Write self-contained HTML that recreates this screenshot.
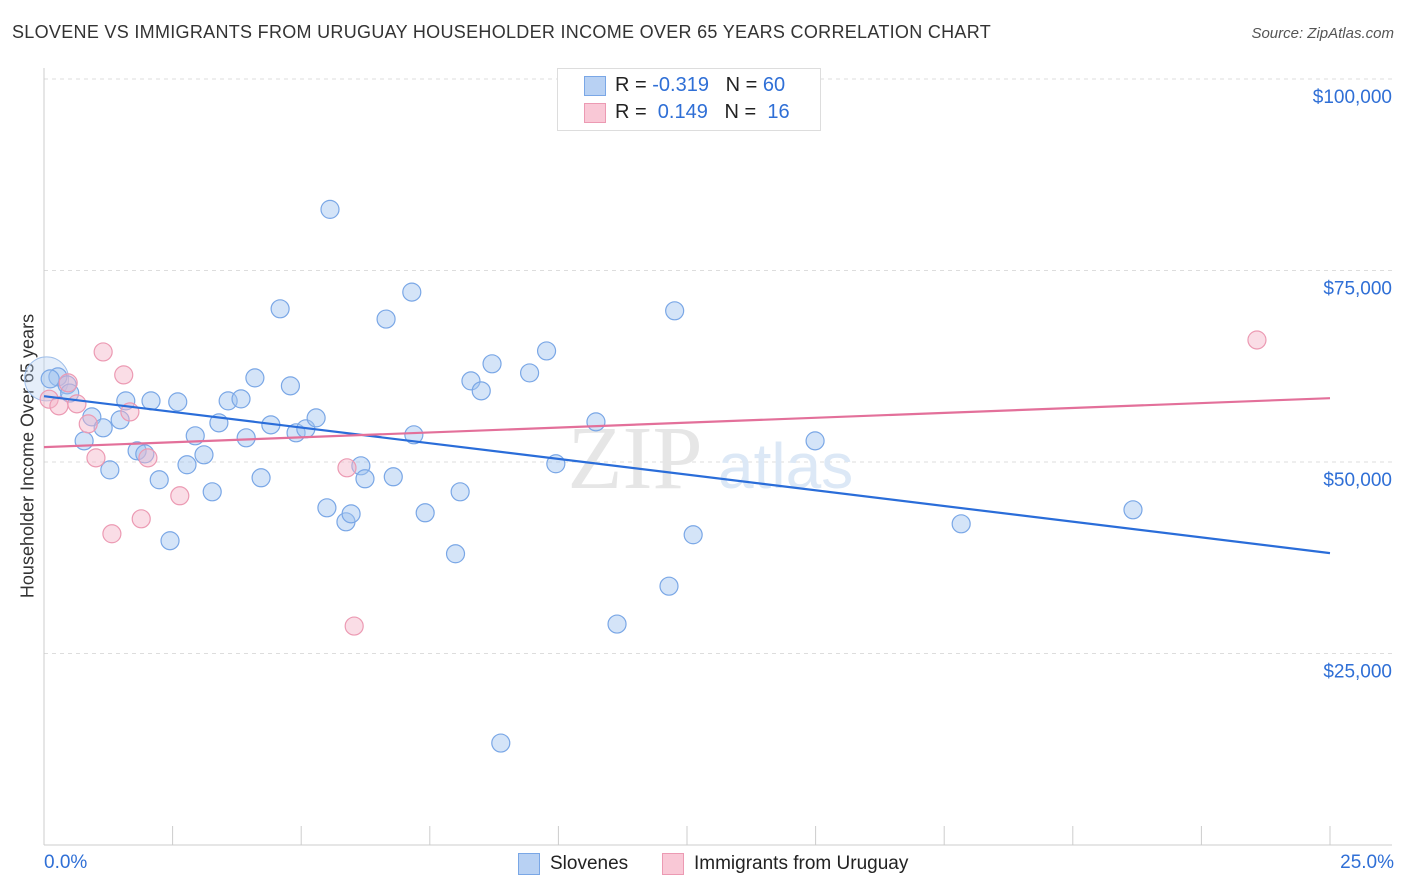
<!DOCTYPE html>
<html><head><meta charset="utf-8">
<style>
body{margin:0;background:#fff;font-family:"Liberation Sans",sans-serif;}
#wrap{position:relative;width:1406px;height:892px;overflow:hidden;}
.t{position:absolute;white-space:nowrap;}
</style></head>
<body>
<div id="wrap">
<div class="t" style="left:12px;top:22px;font-size:18px;letter-spacing:0.3px;color:#333;">SLOVENE VS IMMIGRANTS FROM URUGUAY HOUSEHOLDER INCOME OVER 65 YEARS CORRELATION CHART</div>
<div class="t" style="right:12px;top:25px;font-size:15px;color:#555;font-style:italic;">Source: ZipAtlas.com</div>
<div class="t" style="left:28px;top:456px;font-size:18px;color:#333;transform:translate(-50%,-50%) rotate(-90deg);">Householder Income Over 65 years</div>
<svg id="svg" width="1406" height="892" style="position:absolute;left:0;top:0"></svg>
<div style="position:absolute;left:557px;top:68px;width:262px;height:61px;border:1px solid #ddd;background:#fff;"></div>
<div style="position:absolute;left:584px;top:76px;width:20px;height:18px;background:#b8d1f3;border:1px solid #7aa7e6;"></div>
<div style="position:absolute;left:584px;top:103px;width:20px;height:18px;background:#f9c8d6;border:1px solid #ec9ab3;"></div>
<div class="t" style="left:615px;top:74px;font-size:20px;color:#222;">R = <span style="color:#2f6fd6">-0.319</span>&nbsp;&nbsp;&nbsp;N = <span style="color:#2f6fd6">60</span></div>
<div class="t" style="left:615px;top:101px;font-size:20px;color:#222;">R = &nbsp;<span style="color:#2f6fd6">0.149</span>&nbsp;&nbsp;&nbsp;N = &nbsp;<span style="color:#2f6fd6">16</span></div>
<div class="t" style="left:44px;top:852px;font-size:19px;color:#2f6fd6;">0.0%</div>
<div class="t" style="right:12px;top:852px;font-size:19px;color:#2f6fd6;">25.0%</div>
<div style="position:absolute;left:518px;top:853px;width:20px;height:20px;background:#b8d1f3;border:1px solid #7aa7e6;"></div>
<div class="t" style="left:550px;top:853px;font-size:19px;color:#222;">Slovenes</div>
<div style="position:absolute;left:662px;top:853px;width:20px;height:20px;background:#f9c8d6;border:1px solid #ec9ab3;"></div>
<div class="t" style="left:694px;top:853px;font-size:19px;color:#222;">Immigrants from Uruguay</div>
</div>
<script>
const yTicks=[25000,50000,75000,100000];
const yTickLabels=["$25,000","$50,000","$75,000","$100,000"];
const blueX=[0.27,0.45,0.93,1.15,0.78,1.48,1.59,2.08,1.81,1.96,1.28,2.6,2.94,2.78,2.24,2.45,3.27,3.11,3.4,3.58,3.83,4.1,3.93,4.22,4.59,4.41,4.79,4.9,5.09,5.29,5.56,5.5,5.87,5.97,6.16,6.24,6.65,6.79,7.15,7.19,7.41,8.0,8.09,8.3,8.5,8.71,8.88,9.44,9.77,9.95,10.73,11.14,12.15,12.26,12.62,14.99,17.83,21.17,0.12,0.5];
const blueY=[61110,60070,55890,54460,52760,55500,57980,57980,51460,51060,48970,57850,53420,49640,47680,39720,46110,50940,55110,57980,58240,60980,53160,47940,70000,54850,59940,53810,54330,55760,82980,44020,42190,43230,49500,47810,68660,48070,72180,53550,43370,38020,46110,60590,59290,62820,13310,61630,64500,49770,55240,28840,33790,69740,40500,52760,41930,43760,60850,59000];
const pinkX=[0.1,0.29,0.47,0.64,0.86,1.01,1.15,1.32,1.55,1.67,1.89,2.02,2.64,5.89,6.03,23.58];
const pinkY=[58200,57330,60330,57590,54980,50540,64370,40630,61370,56540,42580,50540,45590,49240,28580,65930];
const blueTrend=[58594,38106];
const pinkTrend=[51939,58333];
const X0=44,X1=1330,Y0=845,Y100=79;
const sx=v=>X0+(v/25)*(X1-X0);
const sy=v=>Y0-(v/100000)*(Y0-Y100);
const svg=document.getElementById('svg');
const NS='http://www.w3.org/2000/svg';
function mk(t,a){const e=document.createElementNS(NS,t);for(const k in a)e.setAttribute(k,a[k]);svg.appendChild(e);return e;}
yTicks.forEach((v,i)=>{
 const g=mk('line',{x1:X0,x2:1392,y1:sy(v),y2:sy(v),stroke:'#ddd','stroke-dasharray':'4,4'});
 
 
 const t=mk('text',{x:1392,y:sy(v)+24,'text-anchor':'end','font-size':19,fill:'#2f6fd6','font-family':'Liberation Sans, sans-serif'});
 t.textContent=yTickLabels[i];
 
 
});
const ax=mk('line',{x1:X0,x2:X0,y1:68,y2:845,stroke:'#ccc'});


const bx=mk('line',{x1:X0,x2:1392,y1:845,y2:845,stroke:'#ccc'});


for(let i=0;i<=10;i++){
 const tk=mk('line',{x1:sx(i*2.5),x2:sx(i*2.5),y1:826,y2:845,stroke:'#ccc'});
 
 
}
const wm=mk('text',{x:635,y:488,'text-anchor':'middle','font-size':90,fill:'#e6e6e6','font-family':'Liberation Serif, serif'});
wm.textContent='ZIP';


const wm2=mk('text',{x:718,y:488,'font-size':64,fill:'#dce8f6','font-family':'Liberation Sans, sans-serif'});
wm2.textContent='atlas';


const big=mk('circle',{cx:sx(0.05),cy:sy(60850),r:22,fill:'rgba(180,205,240,0.35)',stroke:'#9fbfea'});


blueX.forEach((x,i)=>{
 const c=mk('circle',{cx:sx(x),cy:sy(blueY[i]),r:9,fill:'rgba(160,195,240,0.45)',stroke:'#7aa7e6','stroke-width':1.2});
 
 
});
pinkX.forEach((x,i)=>{
 const c=mk('circle',{cx:sx(x),cy:sy(pinkY[i]),r:9,fill:'rgba(245,180,200,0.45)',stroke:'#ec9ab3','stroke-width':1.2});
 
 
});
const bl=mk('line',{x1:sx(0),y1:sy(blueTrend[0]),x2:sx(25),y2:sy(blueTrend[1]),stroke:'#2a6dd9','stroke-width':2.2});


const pl=mk('line',{x1:sx(0),y1:sy(pinkTrend[0]),x2:sx(25),y2:sy(pinkTrend[1]),stroke:'#e3709a','stroke-width':2.2});


</script>
</body></html>
